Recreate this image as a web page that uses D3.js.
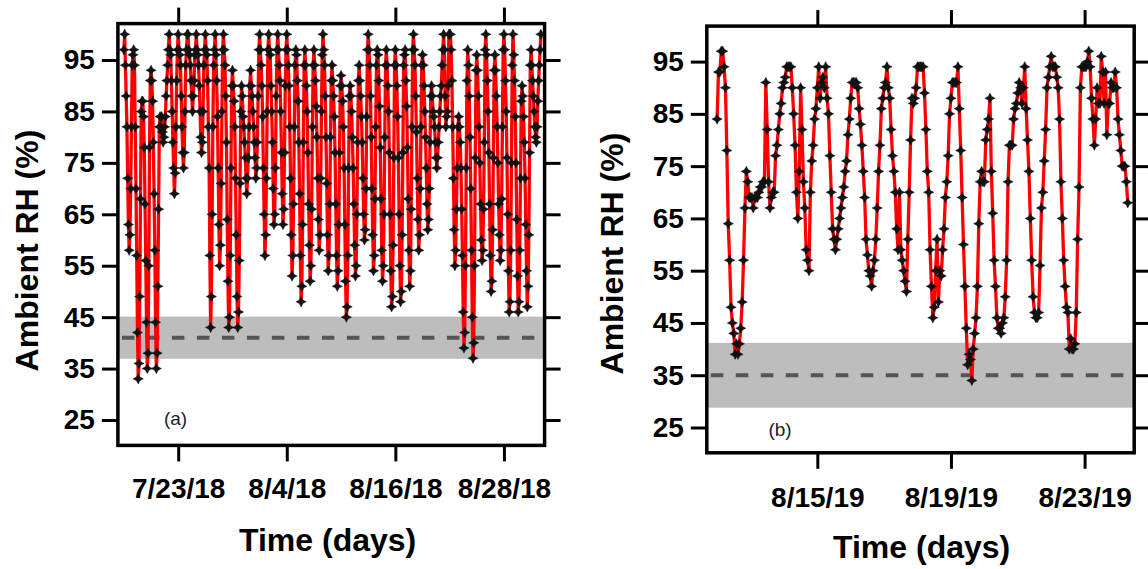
<!DOCTYPE html>
<html><head><meta charset="utf-8">
<script src="https://cdn.jsdelivr.net/npm/d3@7"></script>
<style>
html,body{margin:0;padding:0;background:#fff;}
svg{display:block;font-family:"Liberation Sans",Arial,sans-serif;}
</style></head><body>
<svg id="chart" width="1148" height="569"></svg>
<script>
// ---------------- data ----------------
const yTickValues = [25, 35, 45, 55, 65, 75, 85, 95];

const tickDatesA = ["2018-07-23", "2018-08-04", "2018-08-16", "2018-08-28"];
const tickLabelsA = ["7/23/18", "8/4/18", "8/16/18", "8/28/18"];
const tickDatesB = ["2019-08-15", "2019-08-19", "2019-08-23"];
const tickLabelsB = ["8/15/19", "8/19/19", "8/23/19"];

// panel (a): 2-hourly ambient RH (%), from 7/17/18 00:00 (one row per day)
const startA = "2018-07-17T00:00:00Z";
const stepHoursA = 2;
const rhA = [
  97, 100, 94, 88, 82, 72, 63, 58, 61, 70, 82, 94,
  96, 97, 94, 82, 70, 57, 42, 33, 36, 49, 68, 85,
  87, 87, 84, 78, 67, 56, 44, 35, 38, 55, 78, 91,
  93, 91, 87, 79, 69, 58, 44, 35, 38, 51, 66, 82,
  84, 82, 84, 81, 79, 80, 82, 84, 88, 91, 94, 97,
  100, 97, 96, 91, 85, 79, 74, 69, 73, 82, 91, 97,
  100, 97, 96, 94, 88, 82, 77, 74, 77, 85, 94, 97,
  100, 100, 97, 96, 94, 91, 88, 85, 88, 91, 96, 97,
  100, 97, 96, 94, 90, 85, 80, 77, 79, 85, 94, 97,
  100, 97, 96, 91, 82, 74, 57, 43, 49, 65, 82, 94,
  97, 100, 96, 91, 84, 74, 63, 55, 59, 71, 85, 97,
  100, 97, 94, 88, 79, 64, 52, 43, 45, 57, 74, 90,
  93, 90, 87, 82, 72, 61, 49, 43, 46, 56, 71, 85,
  90, 88, 84, 82, 79, 76, 72, 69, 72, 76, 82, 90,
  93, 90, 88, 85, 82, 79, 76, 72, 74, 79, 88, 97,
  100, 97, 94, 90, 84, 74, 65, 57, 61, 72, 85, 97,
  100, 97, 96, 90, 85, 79, 70, 63, 65, 74, 88, 97,
  100, 97, 94, 91, 85, 77, 69, 63, 66, 77, 90, 97,
  100, 97, 94, 90, 82, 72, 61, 53, 57, 67, 82, 94,
  97, 96, 91, 87, 79, 69, 57, 48, 51, 63, 79, 94,
  97, 94, 90, 85, 77, 67, 59, 52, 55, 66, 82, 94,
  97, 94, 91, 86, 80, 72, 64, 58, 61, 72, 85, 96,
  100, 97, 94, 88, 80, 71, 61, 54, 57, 67, 80, 91,
  94, 91, 88, 84, 77, 67, 57, 51, 54, 63, 77, 90,
  92, 90, 87, 82, 74, 63, 52, 45, 47, 57, 74, 88,
  90, 88, 85, 80, 74, 67, 59, 53, 55, 65, 79, 91,
  94, 91, 88, 84, 79, 72, 65, 60, 62, 70, 84, 97,
  100, 97, 94, 88, 80, 70, 61, 54, 57, 68, 82, 94,
  97, 96, 91, 86, 78, 68, 58, 52, 55, 65, 80, 94,
  97, 94, 90, 85, 77, 65, 54, 47, 49, 59, 76, 94,
  97, 94, 90, 84, 76, 65, 55, 48, 50, 61, 77, 94,
  96, 97, 91, 86, 78, 68, 58, 51, 54, 66, 82, 97,
  100, 97, 94, 88, 81, 72, 64, 58, 61, 70, 82, 94,
  96, 94, 90, 85, 80, 74, 67, 62, 64, 70, 79, 88,
  90, 88, 85, 84, 82, 79, 76, 74, 76, 79, 82, 85,
  88, 90, 94, 97, 100, 97, 88, 82, 84, 85, 90, 100,
  100, 100, 97, 91, 82, 72, 62, 55, 58, 66, 74, 82,
  84, 82, 79, 74, 66, 57, 46, 39, 42, 55, 74, 91,
  97, 94, 88, 80, 70, 58, 45, 37, 40, 55, 76, 93,
  96, 93, 88, 82, 75, 67, 60, 56, 58, 66, 79, 97,
  100, 96, 91, 85, 77, 67, 57, 50, 52, 62, 76, 93,
  96, 93, 88, 82, 75, 67, 61, 56, 58, 68, 82, 97,
  100, 97, 91, 85, 76, 65, 54, 46, 48, 58, 75, 94,
  100, 96, 91, 84, 75, 64, 53, 46, 48, 58, 72, 87,
  90, 88, 84, 79, 72, 63, 54, 47, 51, 61, 77, 94,
  97, 94, 91, 88, 85, 82, 80, 79, 82, 87, 91, 94,
  97, 100
];

// panel (b): hourly ambient RH (%), from 8/12/19 00:00
const startB = "2019-08-12T00:00:00Z";
const stepHoursB = 1;
const rhB = [
  84, 93, 93, 97, 97, 94, 90, 78, 64, 57, 48, 45, 43, 39, 41, 39, 41, 44, 49, 57,
  67, 74, 72, 69, 69, 69, 67, 69, 69, 69, 70, 71, 71, 72, 72, 91, 82, 72, 67, 69,
  70, 70, 77, 79, 82, 85, 87, 90, 91, 92, 94, 94, 94, 94, 90, 85, 79, 70, 65, 74,
  90, 82, 72, 67, 59, 57, 55, 70, 76, 79, 84, 86, 90, 94, 88, 91, 92, 90, 94, 88,
  85, 77, 70, 63, 61, 59, 61, 63, 65, 67, 69, 71, 74, 76, 81, 84, 88, 91, 91, 91,
  91, 90, 86, 83, 79, 74, 69, 61, 58, 55, 54, 52, 55, 57, 61, 67, 74, 79, 86, 88,
  90, 91, 94, 90, 88, 82, 77, 74, 70, 63, 59, 70, 59, 57, 55, 53, 51, 61, 70, 80,
  88, 87, 88, 90, 94, 94, 94, 94, 94, 89, 82, 74, 70, 59, 52, 46, 48, 55, 61, 49,
  55, 54, 59, 63, 69, 72, 77, 85, 88, 91, 91, 91, 91, 94, 86, 78, 69, 60, 52, 44,
  37, 39, 38, 34, 40, 43, 46, 52, 64, 72, 74, 72, 72, 80, 82, 84, 88, 74, 66, 57,
  52, 46, 44, 44, 43, 45, 46, 50, 57, 72, 79, 79, 79, 84, 86, 87, 89, 91, 90, 87,
  90, 94, 86, 80, 74, 65, 57, 50, 47, 46, 46, 47, 56, 67, 70, 76, 82, 90, 92, 94,
  96, 94, 94, 94, 92, 90, 84, 72, 65, 57, 52, 48, 47, 40, 42, 40, 40, 41, 47, 61,
  71, 90, 94, 94, 94, 94, 95, 97, 94, 88, 84, 79, 84, 90, 87, 87, 96, 93, 87, 93,
  81, 87, 87, 91, 90, 90, 93, 90, 84, 81, 78, 75, 75, 75, 72, 68
];

// shaded band (range) and its mean (dashed line)
const bandA = [36.9, 45.1];
const meanA = 41;
const bandB = [28.8, 41.2];
const meanB = 35;

const panelLabels = ["(a)", "(b)"];
const yTitle = "Ambient RH (%)";
const xTitle = "Time (days)";

// ---------------- drawing ----------------
const svg = d3.select("#chart");
const HOUR = 3600 * 1000;

function series(start, stepH, values) {
  const t0 = new Date(start).getTime();
  return values.map((v, i) => ({ t: new Date(t0 + i * stepH * HOUR), v }));
}

const star = "M0,-5.2L1.8,-1.8L5.2,0L1.8,1.8L0,5.2L-1.8,1.8L-5.2,0L-1.8,-1.8Z";

function drawPanel(cfg) {
  const x = d3.scaleUtc().domain(cfg.xDomain).range([cfg.left, cfg.right]);
  const y = d3.scaleLinear().domain(cfg.yDomain).range([cfg.bottom, cfg.top]);
  const g = svg.append("g");
  const w = cfg.right - cfg.left;

  g.append("rect")
    .attr("x", cfg.left).attr("width", w)
    .attr("y", y(cfg.band[1])).attr("height", y(cfg.band[0]) - y(cfg.band[1]))
    .attr("fill", "#bdbdbd");
  g.append("line")
    .attr("x1", cfg.left + 4).attr("x2", cfg.right - 2)
    .attr("y1", y(cfg.mean)).attr("y2", y(cfg.mean))
    .attr("stroke", "#555").attr("stroke-width", 4)
    .attr("stroke-dasharray", "12.5,12.5");

  const data = series(cfg.start, cfg.step, cfg.values);
  const line = d3.line().x(d => x(d.t)).y(d => y(d.v));
  g.append("path").datum(data)
    .attr("d", line)
    .attr("fill", "none").attr("stroke", "#ff0000")
    .attr("stroke-width", 3.3).attr("stroke-linejoin", "round");

  g.append("g").selectAll("path").data(data).join("path")
    .attr("d", star)
    .attr("transform", d => `translate(${x(d.t)},${y(d.v)})`)
    .attr("fill", "#111").attr("stroke", "#111").attr("stroke-width", 0.4);

  const tickDates = cfg.tickDates.map(s => new Date(s + "T00:00:00Z"));
  const fmtX = d => cfg.tickLabels[tickDates.findIndex(t => +t === +d)];
  const styleAxis = sel => {
    sel.select(".domain").remove();
    sel.selectAll(".tick line").attr("stroke", "#000").attr("stroke-width", 3);
    sel.selectAll(".tick text").attr("fill", "#000")
      .style("font-size", "28px").style("font-weight", "bold")
      .style("font-family", '"Liberation Sans", Arial, sans-serif');
  };
  g.append("g").attr("transform", `translate(${cfg.left},0)`)
    .call(d3.axisLeft(y).tickValues(yTickValues).tickSize(16).tickPadding(7))
    .call(styleAxis);
  g.append("g").attr("transform", `translate(${cfg.right},0)`)
    .call(d3.axisRight(y).tickValues(yTickValues).tickSize(16).tickFormat(""))
    .call(styleAxis);
  g.append("g").attr("transform", `translate(0,${cfg.bottom})`)
    .call(d3.axisBottom(x).tickValues(tickDates).tickSize(16).tickPadding(cfg.xPad).tickFormat(fmtX))
    .call(styleAxis);
  g.append("g").attr("transform", `translate(0,${cfg.top})`)
    .call(d3.axisTop(x).tickValues(tickDates).tickSize(16).tickFormat(""))
    .call(styleAxis);

  g.append("rect")
    .attr("x", cfg.left).attr("y", cfg.top)
    .attr("width", w).attr("height", cfg.bottom - cfg.top)
    .attr("fill", "none").attr("stroke", "#000").attr("stroke-width", 3.5);

  g.append("text").attr("x", cfg.labelX).attr("y", cfg.labelY)
    .attr("text-anchor", "middle").attr("fill", "#222")
    .style("font-size", "19px").text(cfg.label);

  g.append("text").attr("x", cfg.xTitleX).attr("y", cfg.xTitleY)
    .attr("text-anchor", "middle").attr("fill", "#000")
    .style("font-size", "32px").style("font-weight", "bold").text(xTitle);
  g.append("text")
    .attr("transform", `translate(${cfg.yTitleX},${cfg.yTitleY}) rotate(-90)`)
    .attr("text-anchor", "middle").attr("fill", "#000")
    .style("font-size", "32px").style("font-weight", "bold").text(yTitle);
}

drawPanel({
  left: 117.9, right: 544.6, top: 23.6, bottom: 445.4,
  xDomain: [new Date("2018-07-16T08:04:00Z"), new Date("2018-09-01T11:53:00Z")],
  yDomain: [20.06, 102.08],
  start: startA, step: stepHoursA, values: rhA,
  band: bandA, mean: meanA,
  tickDates: tickDatesA, tickLabels: tickLabelsA, xPad: 17,
  label: panelLabels[0], labelX: 175.5, labelY: 424.5,
  xTitleX: 327.6, xTitleY: 551, yTitleX: 37.5, yTitleY: 250.5
});

drawPanel({
  left: 706.8, right: 1134.2, top: 26.1, bottom: 452.8,
  xDomain: [new Date("2019-08-11T16:36:00Z"), new Date("2019-08-24T11:38:00Z")],
  yDomain: [20.16, 101.79],
  start: startB, step: stepHoursB, values: rhB,
  band: bandB, mean: meanB,
  tickDates: tickDatesB, tickLabels: tickLabelsB, xPad: 18,
  label: panelLabels[1], labelX: 780, labelY: 436,
  xTitleX: 921.6, xTitleY: 558, yTitleX: 623.3, yTitleY: 253.6
});
</script>
</body></html>
